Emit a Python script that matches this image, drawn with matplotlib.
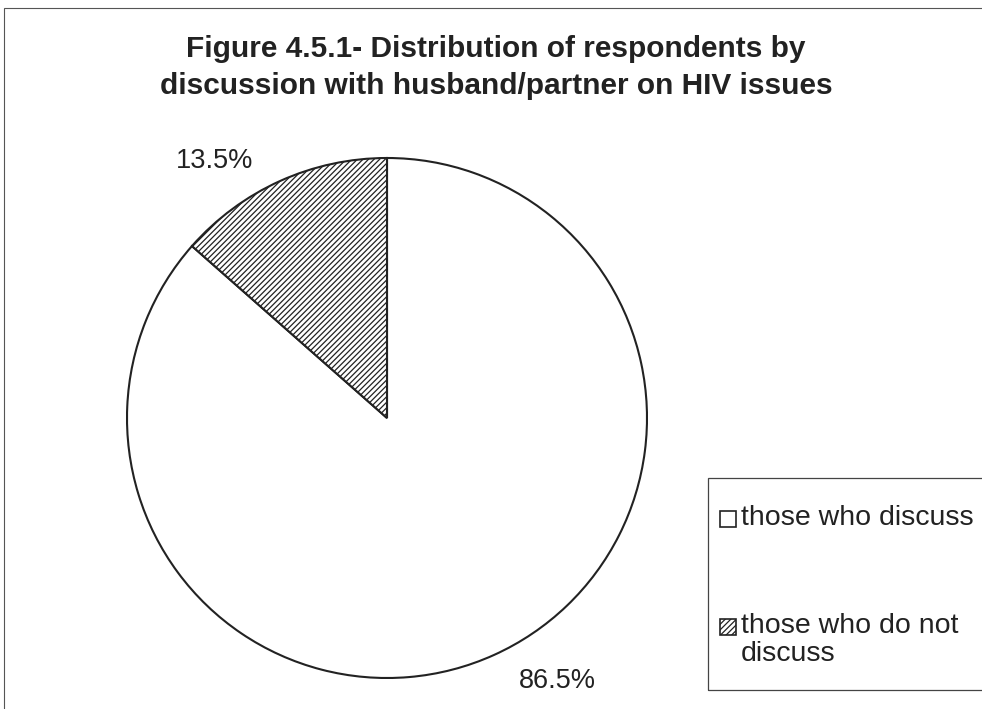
import matplotlib
matplotlib.use("Agg")
import numpy as np
import matplotlib.pyplot as plt
from matplotlib.patches import Rectangle

plt.rcParams['font.family'] = ['Liberation Sans', 'DejaVu Sans']
plt.rcParams['hatch.linewidth'] = 0.9

# data
categories = ["those who discuss", "those who do not\ndiscuss"]
shares = [86.5, 13.5]
pct_labels = ["86.5%", "13.5%"]
title = "Figure 4.5.1- Distribution of respondents by\ndiscussion with husband/partner on HIV issues"

W, H = 982, 709
fig = plt.figure(figsize=(W / 100, H / 100), dpi=100)

def fx(px):
    return px / W

def fy(py):
    # pixel row from the top -> figure fraction
    return 1 - py / H

# outer frame of the chart area (runs off the page on right/bottom)
fig.patches.append(Rectangle((fx(4), -0.05), 1.1, fy(8) + 0.05, transform=fig.transFigure,
                             fill=False, edgecolor="#555555", linewidth=0.8))

fig.text(0.505, fy(35), title, ha="center", va="top", fontsize=21.5,
         fontweight="bold", color="#222222", linespacing=1.4)

ax = fig.add_axes([fx(127), fy(678), fx(520), 520 / H])
wedges, texts = ax.pie(shares, labels=pct_labels, startangle=90, counterclock=False,
                       colors=["white", "white"],
                       wedgeprops=dict(edgecolor="#222222", linewidth=1.5),
                       textprops=dict(fontsize=19.5, color="#222222"))
wedges[1].set_hatch("//////")

# percentage labels sit a little further round than the wedge middle
for w, t, r, shift in zip(wedges, texts, [1.205, 1.19], [8.7, 9.5]):
    mid = np.deg2rad((w.theta1 + w.theta2) / 2 + shift)
    t.set_position((r * np.cos(mid), r * np.sin(mid)))
    t.set_ha("center")
    t.set_va("center")

ax.set_xlim(-1, 1)
ax.set_ylim(-1, 1)
ax.set_aspect("equal")
ax.axis("off")

# legend box, drawn by hand so that the swatch lines up with the first text line
fig.patches.append(Rectangle((fx(708), fy(690)), 1.0, fy(478) - fy(690),
                             transform=fig.transFigure, fill=False,
                             edgecolor="#444444", linewidth=0.9))
rows_top = [505, 613]
for w, lab, top in zip(wedges, categories, rows_top):
    sw = Rectangle((fx(720), fy(top + 22)), fx(16), 16 / H, transform=fig.transFigure,
                   facecolor="white", edgecolor="#222222", linewidth=1.2,
                   hatch=w.get_hatch())
    fig.patches.append(sw)
    fig.text(fx(741), fy(top), lab, ha="left", va="top", fontsize=20.5,
             color="#222222", linespacing=1.12)

fig.savefig("out.png", dpi=100, facecolor="white")
